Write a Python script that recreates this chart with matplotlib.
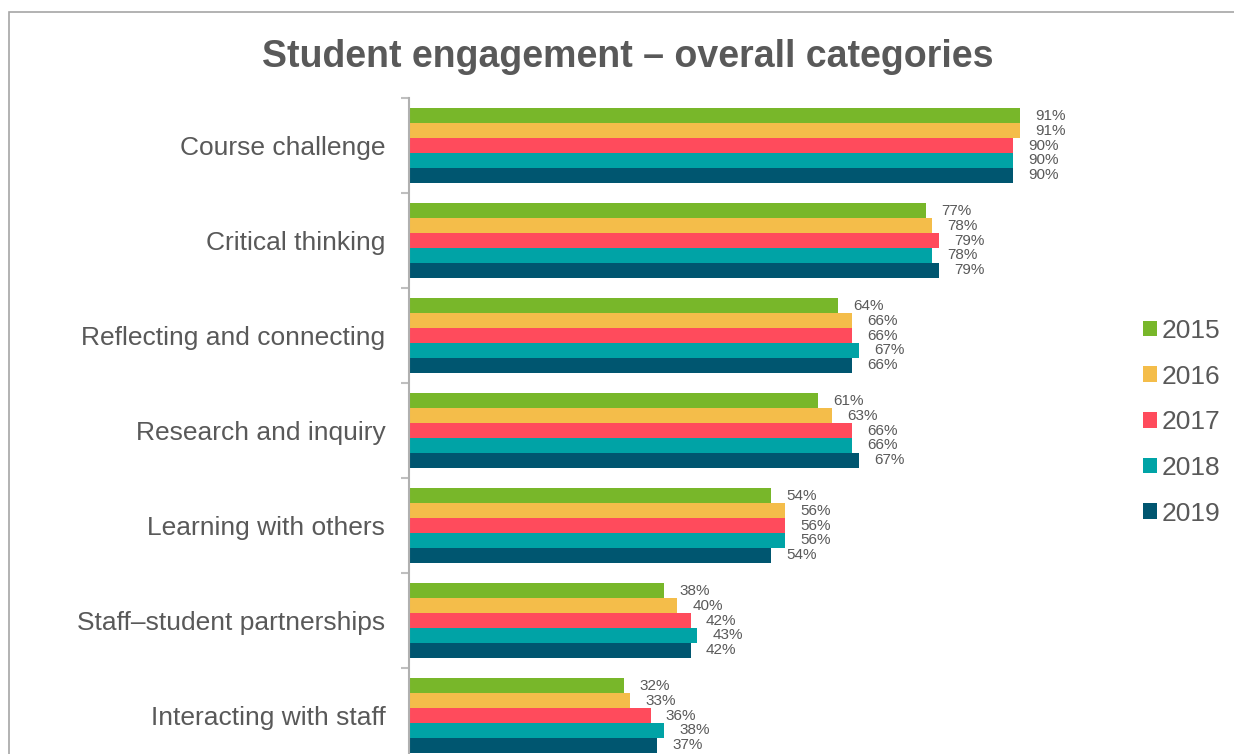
import numpy as np
import matplotlib
matplotlib.use("Agg")
import matplotlib.pyplot as plt
from matplotlib.patches import Rectangle

plt.rcParams['font.family'] = ['Liberation Sans', 'DejaVu Sans']

categories = [
    "Course challenge",
    "Critical thinking",
    "Reflecting and connecting",
    "Research and inquiry",
    "Learning with others",
    "Staff\u2013student partnerships",
    "Interacting with staff",
]
years = ["2015", "2016", "2017", "2018", "2019"]

v2015 = [91, 77, 64, 61, 54, 38, 32]
v2016 = [91, 78, 66, 63, 56, 40, 33]
v2017 = [90, 79, 66, 66, 56, 42, 36]
v2018 = [90, 78, 67, 66, 56, 43, 38]
v2019 = [90, 79, 66, 67, 54, 42, 37]
series = [v2015, v2016, v2017, v2018, v2019]

colors = ["#78b72a", "#f4bd4a", "#ff4b5c", "#00a3a6", "#005670"]
text_color = "#595959"

fig = plt.figure(figsize=(12.34, 7.54), dpi=100)
ax = fig.add_axes([0.3314, -0.0120, 0.5438, 0.8820])

y = np.arange(len(categories))
bar_h = 0.156
for i, (vals, yr, col) in enumerate(zip(series, years, colors)):
    pos = y + (i - 2) * bar_h
    bars = ax.barh(pos, vals, height=bar_h, color=col, label=yr)
    ax.bar_label(bars, labels=[f"{v}%" for v in vals], padding=11,
                 fontsize=11, color=text_color)

ax.set_xlim(0, 100)
ax.set_ylim(len(categories) - 0.5, -0.5)

# category names sit between boundary ticks
ax.set_yticks(np.arange(-0.5, len(categories) + 0.5, 1.0))
ax.set_yticklabels([])
ax.tick_params(axis='y', which='major', length=6, width=1.5, color='#bfbfbf')
ax.set_yticks(y, minor=True)
ax.set_yticklabels(categories, minor=True, fontsize=19, color=text_color)
ax.tick_params(axis='y', which='minor', length=0, pad=17)

ax.set_xticks([])
for side in ['top', 'right', 'bottom']:
    ax.spines[side].set_visible(False)
ax.spines['left'].set_color('#b0b0b0')
ax.spines['left'].set_linewidth(1.5)

fig.text(0.509, 0.924, "Student engagement \u2013 overall categories",
         ha='center', va='center', fontsize=27, fontweight='bold',
         color=text_color)

leg = fig.legend(loc='center left', bbox_to_anchor=(0.9175, 0.440),
                 frameon=False, fontsize=19, handlelength=0.54,
                 handleheight=0.54, handletextpad=0.18, labelspacing=0.82,
                 borderaxespad=0)
for t in leg.get_texts():
    t.set_color(text_color)

# outer frame, open to the right and bottom edges
fig.patches.append(Rectangle((9 / 1234, -0.1), 1.2, 1.1 - 12 / 754,
                             transform=fig.transFigure, fill=False,
                             edgecolor='#a6a6a6', linewidth=1.2))

fig.savefig("out.png", dpi=100)
